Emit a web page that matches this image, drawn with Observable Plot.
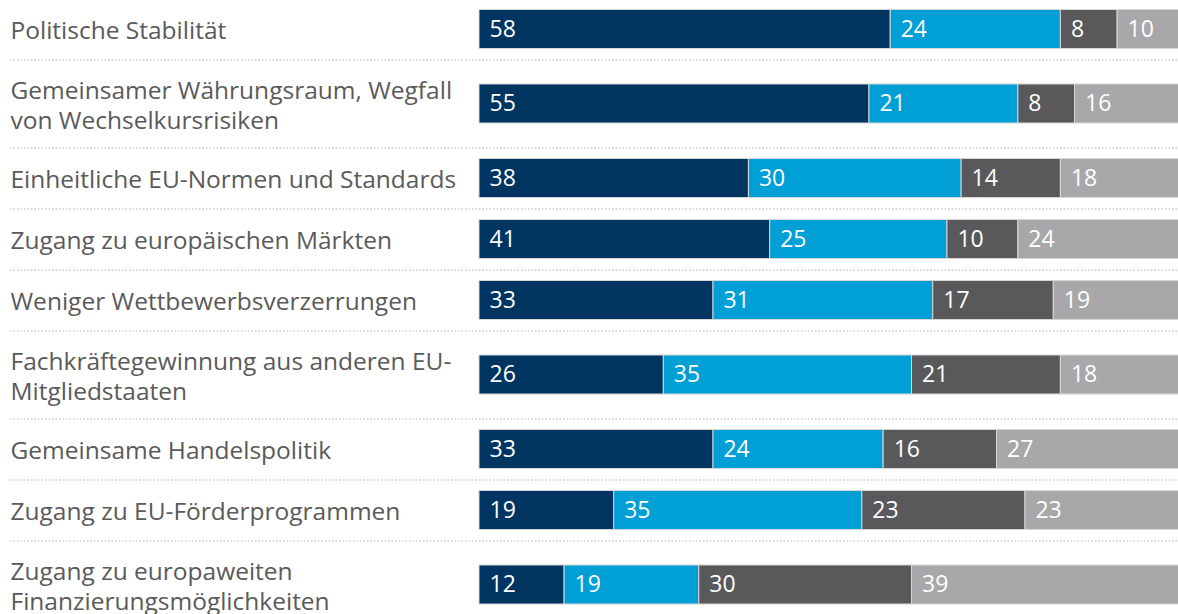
<!DOCTYPE html>
<html><head><meta charset="utf-8">
<script src="https://cdn.jsdelivr.net/npm/d3@7"></script>
<script src="https://cdn.jsdelivr.net/npm/@observablehq/plot@0.6"></script>
<style>
html,body{margin:0;padding:0;overflow:hidden;background:#fff;width:1178px;height:614px}
#chart svg{display:block;max-width:none!important}
</style></head><body><div id="chart"></div>
<script>
// Categories (line breaks as in the reference)
const categories = [
  "Politische Stabilität",
  "Gemeinsamer Währungsraum, Wegfall\nvon Wechselkursrisiken",
  "Einheitliche EU-Normen und Standards",
  "Zugang zu europäischen Märkten",
  "Weniger Wettbewerbsverzerrungen",
  "Fachkräftegewinnung aus anderen EU-\nMitgliedstaaten",
  "Gemeinsame Handelspolitik",
  "Zugang zu EU-Förderprogrammen",
  "Zugang zu europaweiten\nFinanzierungsmöglichkeiten"
];
const series = ["A", "B", "C", "D"];
const valuesA = [58, 55, 38, 41, 33, 26, 33, 19, 12];
const valuesB = [24, 21, 30, 25, 31, 35, 24, 35, 19];
const valuesC = [8, 8, 14, 10, 17, 21, 16, 23, 30];
const valuesD = [10, 16, 18, 24, 19, 18, 27, 23, 39];
const colors = ["#003562", "#00a0d6", "#59595b", "#a8a8aa"];

const allValues = [valuesA, valuesB, valuesC, valuesD];
const BAR_H = 39, TOP = -1.5;
let cursor = 0;
const rows = categories.map((c, i) => {
  const lines = c.split("\n").length;
  const h = 34 + 27 * lines;
  const r = {category: c, i, top: cursor, mid: cursor + h / 2, bottom: cursor + h};
  cursor += h;
  return r;
});
const total = cursor;
const segs = rows.flatMap(r => series.map((s, k) => ({
  category: r.category, series: s, value: allValues[k][r.i],
  y1: r.mid - BAR_H / 2, y2: r.mid + BAR_H / 2, mid: r.mid
})));

const W = 1188;
const chart = Plot.plot({
  width: W, height: Math.ceil(total),
  marginLeft: 10, marginRight: 0, marginTop: 0, marginBottom: 0,
  x: {domain: [0, 100], range: [479, W], axis: null},
  y: {domain: [0, total], range: [TOP, TOP + total], axis: null},
  color: {domain: series, range: colors},
  style: {fontFamily: "'Open Sans', sans-serif", background: "#fff", maxWidth: "none"},
  marks: [
    Plot.ruleY(rows.slice(0, -1), {y: "bottom", stroke: "#cccccc", strokeWidth: 1.5, strokeDasharray: "1.5,2"}),
    Plot.rectX(segs, Plot.stackX({x: "value", y1: "y1", y2: "y2", fill: "series", stroke: "#d6d6d6", strokeWidth: 1})),
    Plot.text(segs, Plot.stackX1({x: "value", y: "mid", z: "series", text: d => String(d.value), fill: "white", textAnchor: "start", dx: 10, fontSize: 23})),
    Plot.text(rows, {y: "mid", frameAnchor: "left", text: "category", textAnchor: "start", fill: "#5a5a5a", fontSize: 24.5, lineHeight: 1.24})
  ]
});
document.getElementById("chart").appendChild(chart);
</script></body></html>
